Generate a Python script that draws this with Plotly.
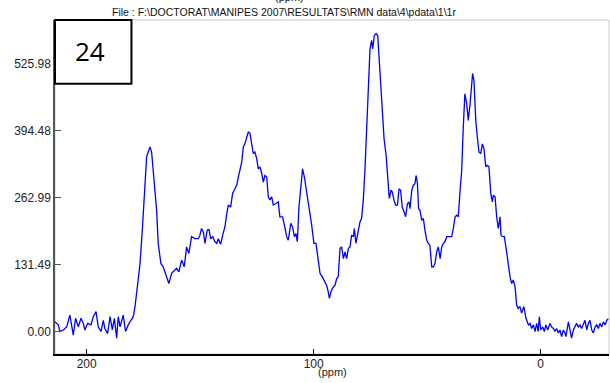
import plotly.graph_objects as go

# Spectre RMN (ppm décroissant, intensité)
ppm = [
    214.0, 212.5, 211.8, 210.3, 208.8, 207.4, 205.9, 204.9, 203.7, 202.5,
    201.5, 200.8, 199.6, 198.1, 197.1, 195.9, 194.9, 193.7, 192.7, 192.0,
    190.8, 189.7, 188.7, 187.8, 186.8, 186.1, 185.3, 183.9, 182.9, 181.7,
    180.5, 179.5, 178.7, 177.7, 176.5, 175.5, 174.6, 173.6, 172.9, 172.1,
    171.4, 170.7, 169.9, 169.2, 168.5, 167.3, 166.3, 165.2, 163.8, 162.6,
    161.4, 160.4, 159.4, 158.2, 157.0, 156.0, 155.0, 153.8, 152.3, 150.8,
    150.1, 149.4, 148.6, 147.9, 146.9, 146.1, 145.4, 144.5, 143.5, 142.7,
    142.0, 141.0, 140.1, 139.1, 138.3, 137.6, 136.6, 135.7, 135.0, 133.9,
    133.2, 132.5, 131.7, 131.0, 130.3, 129.5, 128.8, 128.1, 127.3, 126.6,
    125.9, 125.1, 124.4, 123.7, 122.9, 122.2, 121.5, 120.7, 120.0, 119.3,
    118.5, 117.8, 116.6, 115.6, 114.9, 113.7, 112.6, 111.9, 111.2, 110.1,
    109.3, 108.5, 107.8, 107.2, 106.5, 105.7, 104.9, 104.1, 103.4, 102.8,
    101.9, 100.9, 99.9, 99.0, 98.0, 97.2, 96.2, 95.3, 94.3, 93.6,
    93.1, 92.4, 91.7, 90.6, 89.9, 89.2,
    88.4, 87.7, 86.9, 86.2, 85.5, 84.7, 84.0, 83.3, 82.5, 82.1,
    81.4, 80.3, 79.6, 78.9, 78.1, 77.4, 76.7, 75.9, 75.2, 74.5,
    74.0, 73.3, 72.5, 71.8, 71.1, 70.5, 69.8, 69.0, 68.1, 67.4,
    66.7, 65.9, 65.4, 64.6, 63.9, 63.1, 62.4, 61.7, 61.0, 60.2,
    59.5, 58.7, 58.0, 57.6, 56.8, 56.1, 55.4, 54.9, 54.3, 53.8,
    53.2, 52.4, 51.7, 51.0, 50.2, 49.5, 48.8, 48.0, 47.3, 46.6,
    45.8, 45.1, 44.3, 43.6, 42.9, 42.2, 41.4, 40.4, 39.2, 38.5,
    37.7, 37.0, 36.3,
    35.6, 34.8, 34.1, 33.4, 32.6, 31.9, 31.1, 30.4, 30.0, 29.4,
    28.6, 27.9, 27.2, 26.4, 25.7, 25.0, 24.2, 23.5, 22.8, 22.0,
    21.3, 20.9, 20.1, 19.4, 18.7, 17.9, 17.5, 16.8, 16.0, 15.0,
    14.3, 13.5, 12.8, 12.1, 11.3, 10.6, 9.9, 9.1, 8.4, 7.4,
    6.5, 5.4, 4.7, 4.0, 3.2, 2.5, 1.8, 1.1, 0.6, 0.0,
    -0.9, -1.6, -2.3, -3.1, -4.1, -4.8, -5.6, -6.3, -7.0, -7.8,
    -8.5, -9.2, -10.0, -10.7, -11.1, -12.2, -12.9, -13.6, -14.4, -15.1,
    -15.8, -16.6, -17.3, -18.0, -18.8, -19.5, -20.3, -21.0, -21.7, -22.5,
    -23.2, -24.0, -24.7, -25.4, -26.1, -26.9, -27.6, -28.4, -29.1, -29.8,
]
intensite = [
    19, 13, 0, 3, 9, 32, -7, 26, 9, 26,
    16, 3, 16, 13, 29, 39, 9, 0, 22, 6,
    -4, 29, 3, 26, -13, 29, 9, 32, 0, 13,
    22, 29, 49, 88, 133, 199, 264, 342, 352, 362,
    352, 310, 264, 238, 173, 133, 127, 114, 94, 114,
    120, 124, 117, 140, 127, 166, 153, 186, 182, 182,
    189, 202, 195, 173, 199, 200, 182, 186, 176, 173,
    182, 171, 189, 205, 231, 248, 244, 271, 277, 287,
    303, 319, 332, 362, 368, 381, 391, 389, 368, 349,
    352, 339, 319, 323, 310, 293, 306, 303, 264, 258,
    264, 248, 251, 254, 225, 225, 202, 186, 179, 212,
    205, 186, 192, 176, 244, 284, 319, 303, 284, 271,
    238, 209, 173, 173, 140, 114, 107, 98, 91, 78,
    65, 78, 85, 91, 104, 107,
    163, 166, 143, 156, 143, 163, 166, 189, 186, 202,
    173, 199, 215, 222, 261, 319, 398, 483, 554, 571,
    554, 581, 584, 581, 528, 476, 417, 378, 346, 300,
    261, 277, 274, 257, 248, 248, 280, 277, 244, 235,
    225, 251, 254, 241, 277, 287, 290, 306, 290, 241,
    238, 218, 222, 199, 179, 173, 169, 127, 127, 133,
    156, 166, 143, 166, 173, 176, 186, 186, 186, 202,
    225, 228, 225,
    271, 316, 401, 466, 447, 414, 447, 492, 506, 492,
    414, 381, 352, 349, 368, 359, 323, 326, 323, 271,
    254, 267, 264, 225, 202, 225, 189, 186, 186, 156,
    127, 107, 94, 101, 88, 52, 45, 49, 36, 49,
    26, 13, 16, 6, 13, 0, 16, 0, 29, 3,
    9, 0, 13, 3, 16, 9, 6, 0, 6, -3,
    3, -10, 3, -3, -10, 19, 3, -13, 3, 9,
    16, 9, 13, 6, 16, 22, 3, 16, 22, 3,
    -3, 9, 13, 6, 16, 9, 19, 13, 22, 25,
]

y_ticks = [0.0, 131.49, 262.99, 394.48, 525.98]
y_labels = ['0.00', '131.49', '262.99', '394.48', '525.98']
x_ticks = [200, 100, 0]
titre = r'File : F:\DOCTORAT\MANIPES 2007\RESULTATS\RMN data\4\pdata\1\1r'

fig = go.Figure()
fig.add_trace(go.Scatter(
    x=ppm, y=intensite, mode='lines',
    line=dict(color='#0000ff', width=1.3),
    showlegend=False, hoverinfo='skip',
))

famille = 'Liberation Sans, Arial, sans-serif'
police = dict(family=famille, size=12, color='#222222')

fig.update_layout(
    width=610, height=383,
    margin=dict(l=55, r=1, t=20, b=29),
    paper_bgcolor='white', plot_bgcolor='white',
    font=police,
    xaxis=dict(
        range=[213.96, -30.09], tickvals=x_ticks, ticks='inside', ticklen=5,
        tickcolor='black', showline=True, linecolor='black', linewidth=2,
        showgrid=False, zeroline=False, tickfont=police, automargin=False,
        ticklabelstandoff=-2,
    ),
    yaxis=dict(
        range=[-44.1, 610.9], tickvals=y_ticks, ticktext=y_labels, ticks='inside',
        ticklen=6, tickcolor='#555555', showline=True, linecolor='#555555', linewidth=1.5,
        showgrid=False, zeroline=False, tickfont=police, automargin=False,
    ),
)

# cadre gris clair (haut et droite)
fig.add_shape(type='rect', xref='paper', yref='paper', x0=0, x1=1, y0=0, y1=1,
              line=dict(color='#cccccc', width=1), layer='below')

# titre de l'axe x sous les graduations
fig.add_annotation(text='(ppm)', xref='paper', yref='paper', x=0.5, y=-0.054,
                   xanchor='center', yanchor='middle', showarrow=False,
                   font=dict(family=famille, size=11, color='#222222'))

# titre et "(ppm)" coupé en haut
fig.add_annotation(text=titre, xref='paper', yref='paper', x=0.414, y=1.024,
                   xanchor='center', yanchor='middle', showarrow=False,
                   font=dict(family=famille, size=10.5, color='#111111'))
fig.add_annotation(text='(ppm)', xref='paper', yref='paper', x=0.424, y=1.0448,
                   xanchor='center', yanchor='bottom', showarrow=False,
                   font=dict(family=famille, size=11, color='#111111'))

# encadré "24"
fig.add_shape(type='rect', xref='paper', yref='paper', x0=0, x1=0.138, y0=0.809, y1=1.0,
              line=dict(color='black', width=2), fillcolor='white', layer='above')
fig.add_annotation(text='24', xref='paper', yref='paper', x=0.064, y=0.906,
                   xanchor='center', yanchor='middle', showarrow=False,
                   font=dict(family='Open Sans, sans-serif', size=26, color='black'))

# la page garde sinon la marge de 8 px du <body>
fig.write_html('out.html', config={'displayModeBar': False},
               post_script="document.body.style.margin='0';")
